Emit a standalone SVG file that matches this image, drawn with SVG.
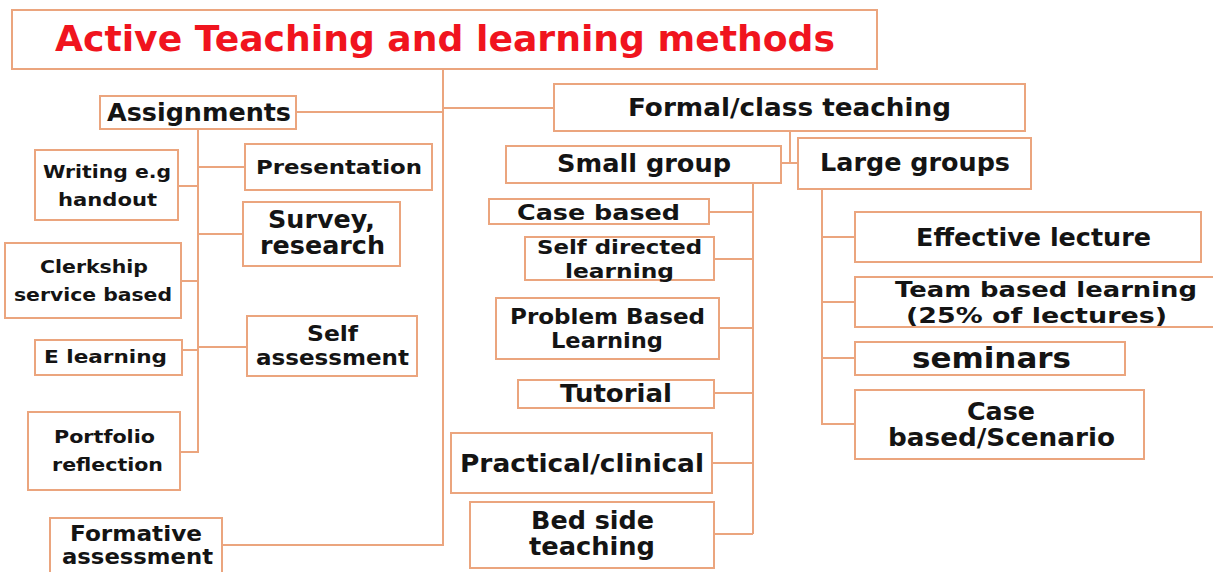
<svg xmlns="http://www.w3.org/2000/svg" width="1213" height="572" viewBox="0 0 1213 572">
<style>
rect.b{fill:#fff;stroke:#EBA57E;stroke-width:2}
.c path{fill:none;stroke:#EBA57E;stroke-width:2}
text{font-family:"DejaVu Sans","Verdana",sans-serif;font-weight:bold;fill:#141414}
text.t{fill:#F0141E}
</style>
<rect width="1213" height="572" fill="#fff"/>
<g class="c" id="connectors">
<path d="M443 69V545H222"/>
<path d="M296 112H443"/>
<path d="M443 108H554"/>
<path d="M790 131V163M781 163H798"/>
<path d="M753 183V534M709 212H753M714 259H753M719 328H753M714 393H753M712 463H753M714 534H753"/>
<path d="M822 189V424H855M822 237H855M822 302H855M822 358H855"/>
<path d="M198 129V452H180M198 167H245M178 186H198M198 234H243M181 281H198M198 347H247M182 350H198"/>
</g>
<g id="title"><rect class="b" x="12" y="10" width="865" height="59"/><text class="t" x="55" y="51" font-size="35" textLength="780" lengthAdjust="spacingAndGlyphs">Active Teaching and learning methods</text></g>
<g id="assignments"><rect class="b" x="100" y="96" width="196" height="33"/><text x="107" y="121" font-size="24" textLength="184" lengthAdjust="spacingAndGlyphs">Assignments</text></g>
<g id="formal"><rect class="b" x="554" y="84" width="471" height="47"/><text x="628" y="116" font-size="24" textLength="323" lengthAdjust="spacingAndGlyphs">Formal/class teaching</text></g>
<g id="small-group"><rect class="b" x="506" y="146" width="275" height="37"/><text x="557" y="172" font-size="24" textLength="174" lengthAdjust="spacingAndGlyphs">Small group</text></g>
<g id="large-groups"><rect class="b" x="798" y="138" width="233" height="51"/><text x="820" y="171" font-size="24" textLength="190" lengthAdjust="spacingAndGlyphs">Large groups</text></g>
<g id="presentation"><rect class="b" x="245" y="144" width="187" height="46"/><text x="256" y="174" font-size="20" textLength="166" lengthAdjust="spacingAndGlyphs">Presentation</text></g>
<g id="writing"><rect class="b" x="35" y="150" width="143" height="70"/><text x="43" y="178" font-size="18.5" textLength="128" lengthAdjust="spacingAndGlyphs">Writing e.g</text><text x="58" y="206" font-size="18.5" textLength="99" lengthAdjust="spacingAndGlyphs">handout</text></g>
<g id="survey"><rect class="b" x="243" y="202" width="157" height="64"/><text x="268" y="228" font-size="24" textLength="107" lengthAdjust="spacingAndGlyphs">Survey,</text><text x="260" y="254" font-size="24" textLength="125" lengthAdjust="spacingAndGlyphs">research</text></g>
<g id="clerkship"><rect class="b" x="5" y="243" width="176" height="75"/><text x="40" y="273" font-size="18.5" textLength="108" lengthAdjust="spacingAndGlyphs">Clerkship</text><text x="14" y="301" font-size="18.5" textLength="158" lengthAdjust="spacingAndGlyphs">service based</text></g>
<g id="self-assessment"><rect class="b" x="247" y="316" width="170" height="60"/><text x="307" y="341" font-size="21" textLength="51" lengthAdjust="spacingAndGlyphs">Self</text><text x="256" y="365" font-size="21" textLength="153" lengthAdjust="spacingAndGlyphs">assessment</text></g>
<g id="e-learning"><rect class="b" x="35" y="340" width="147" height="35"/><text x="44" y="363" font-size="18.5" textLength="123" lengthAdjust="spacingAndGlyphs">E learning</text></g>
<g id="portfolio"><rect class="b" x="28" y="412" width="152" height="78"/><text x="54" y="443" font-size="18.5" textLength="101" lengthAdjust="spacingAndGlyphs">Portfolio</text><text x="52" y="471" font-size="18.5" textLength="111" lengthAdjust="spacingAndGlyphs">reflection</text></g>
<g id="formative"><rect class="b" x="50" y="518" width="172" height="60"/><text x="70" y="541" font-size="21" textLength="132" lengthAdjust="spacingAndGlyphs">Formative</text><text x="62" y="564" font-size="21" textLength="151" lengthAdjust="spacingAndGlyphs">assessment</text></g>
<g id="case-based"><rect class="b" x="489" y="199" width="220" height="25"/><text x="517" y="220" font-size="22" textLength="163" lengthAdjust="spacingAndGlyphs">Case based</text></g>
<g id="self-directed"><rect class="b" x="525" y="237" width="189" height="43"/><text x="537" y="254" font-size="19.5" textLength="165" lengthAdjust="spacingAndGlyphs">Self directed</text><text x="565" y="278" font-size="19.5" textLength="109" lengthAdjust="spacingAndGlyphs">learning</text></g>
<g id="pbl"><rect class="b" x="496" y="298" width="223" height="61"/><text x="510" y="324" font-size="21" textLength="195" lengthAdjust="spacingAndGlyphs">Problem Based</text><text x="551" y="348" font-size="21" textLength="112" lengthAdjust="spacingAndGlyphs">Learning</text></g>
<g id="tutorial"><rect class="b" x="518" y="380" width="196" height="28"/><text x="560" y="402" font-size="24" textLength="112" lengthAdjust="spacingAndGlyphs">Tutorial</text></g>
<g id="practical"><rect class="b" x="451" y="433" width="261" height="60"/><text x="460" y="472" font-size="24" textLength="244" lengthAdjust="spacingAndGlyphs">Practical/clinical</text></g>
<g id="bedside"><rect class="b" x="470" y="502" width="244" height="66"/><text x="531" y="529" font-size="24" textLength="123" lengthAdjust="spacingAndGlyphs">Bed side</text><text x="529" y="555" font-size="24" textLength="126" lengthAdjust="spacingAndGlyphs">teaching</text></g>
<g id="effective"><rect class="b" x="855" y="212" width="346" height="50"/><text x="916" y="246" font-size="24" textLength="235" lengthAdjust="spacingAndGlyphs">Effective lecture</text></g>
<g id="team"><rect class="b" x="855" y="277" width="365" height="50"/><text x="895" y="297" font-size="22" textLength="302" lengthAdjust="spacingAndGlyphs">Team based learning</text><text x="906" y="323" font-size="22" textLength="261" lengthAdjust="spacingAndGlyphs">(25% of lectures)</text></g>
<g id="seminars"><rect class="b" x="855" y="342" width="270" height="33"/><text x="912" y="368" font-size="28" textLength="159" lengthAdjust="spacingAndGlyphs">seminars</text></g>
<g id="case-scenario"><rect class="b" x="855" y="390" width="289" height="69"/><text x="967" y="420" font-size="24" textLength="68" lengthAdjust="spacingAndGlyphs">Case</text><text x="888" y="446" font-size="24" textLength="227" lengthAdjust="spacingAndGlyphs">based/Scenario</text></g>
</svg>
